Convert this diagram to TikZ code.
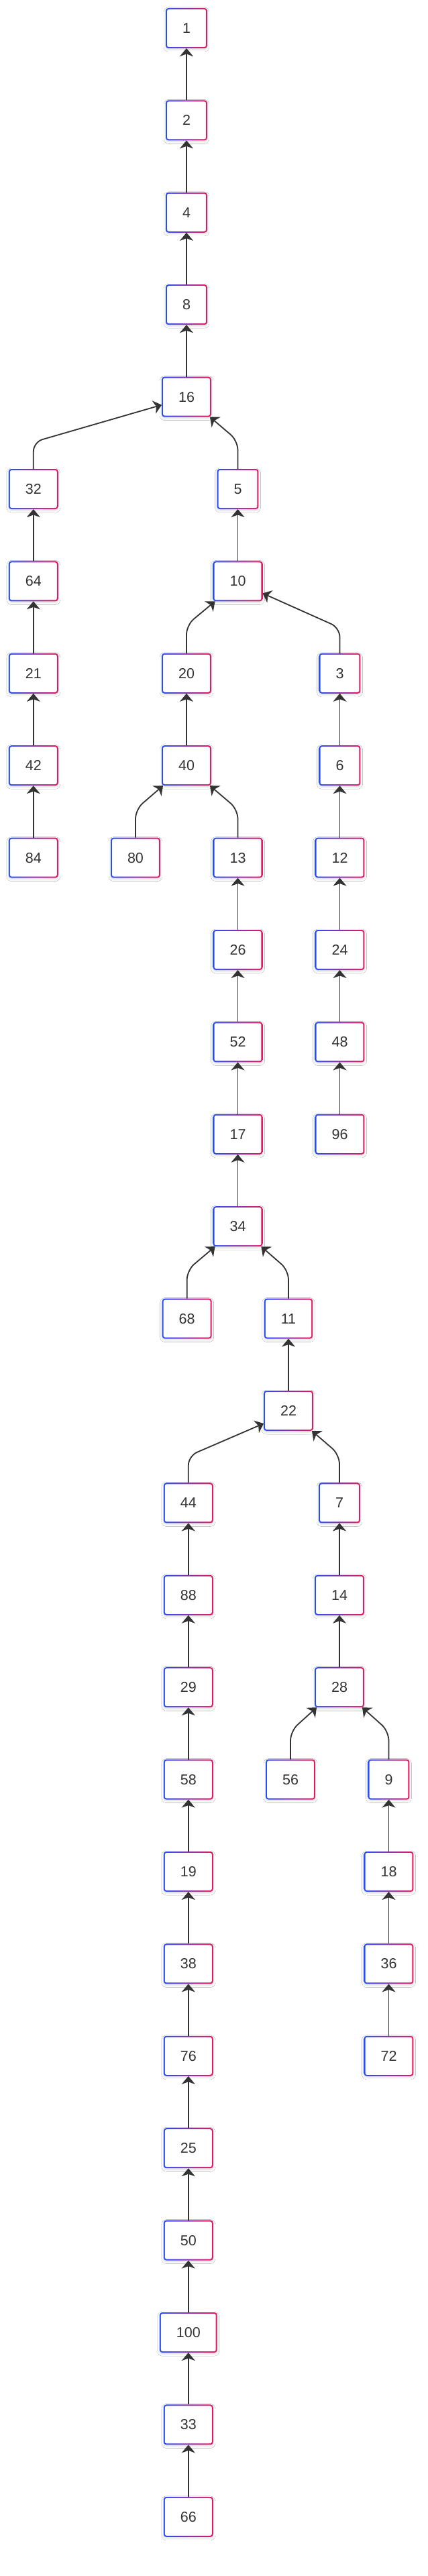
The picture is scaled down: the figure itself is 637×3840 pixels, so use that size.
\documentclass[tikz,border=0pt]{standalone}
\usepackage{fontspec}
\setmainfont{Liberation Sans}
\usetikzlibrary{arrows.meta,shadows.blur}
\definecolor{gblue}{RGB}{36,76,255}
\definecolor{gpink}{RGB}{236,20,92}
\definecolor{ink}{RGB}{51,51,51}
\tikzset{
  box/.style={rectangle, rounded corners=4pt, minimum height=60pt, inner xsep=25pt, inner ysep=0pt, outer sep=0pt,
    font=\fontsize{21.5}{25}\selectfont, text=ink, fill=white,
    blur shadow={shadow xshift=0pt, shadow yshift=-2pt, shadow blur radius=3pt, shadow opacity=14},
    path picture={
      \shade[left color=gblue, right color=gpink] (path picture bounding box.south west) rectangle (path picture bounding box.north east);
      \fill[white, rounded corners=2.5pt] ([shift={(2pt,2pt)}]path picture bounding box.south west) rectangle ([shift={(-2pt,-2pt)}]path picture bounding box.north east);
    }},
  edge/.style={draw=ink, line width=1.8pt, rounded corners=14pt, -{Stealth[length=12pt, width=20pt, inset=3.5pt]}}
}
\begin{document}
\begin{tikzpicture}[x=1pt, y=-1pt]
\fill[white] (0,0) rectangle (637,3840);
\useasboundingbox (0,0) rectangle (637,3840);
% main column
\node[box] (n1) at (278,42) {1};
\node[box] (n2) at (278,179.4) {2};
\node[box] (n4) at (278,316.8) {4};
\node[box] (n8) at (278,454.2) {8};
\node[box] (n16) at (278,591.6) {16};
% left chain
\node[box] (n32) at (49.8,729) {32};
\node[box] (n64) at (49.8,866.4) {64};
\node[box] (n21) at (49.8,1003.8) {21};
\node[box] (n42) at (49.8,1141.2) {42};
\node[box] (n84) at (49.8,1278.6) {84};
% right of 16
\node[box] (n5) at (354.5,729) {5};
\node[box] (n10) at (354.5,866.4) {10};
\node[box] (n20) at (278,1003.8) {20};
\node[box] (n40) at (278,1141.2) {40};
\node[box] (n80) at (202,1278.6) {80};
\node[box] (n13) at (354.5,1278.6) {13};
\node[box] (n26) at (354.5,1416) {26};
\node[box] (n52) at (354.5,1553.4) {52};
\node[box] (n17) at (354.5,1690.8) {17};
\node[box] (n34) at (354.5,1828.2) {34};
\node[box] (n68) at (278.7,1965.6) {68};
\node[box] (n11) at (430,1965.6) {11};
\node[box] (n22) at (430,2103) {22};
% 3 chain
\node[box] (n3) at (506.5,1003.8) {3};
\node[box] (n6) at (506.5,1141.2) {6};
\node[box] (n12) at (506.5,1278.6) {12};
\node[box] (n24) at (506.5,1416) {24};
\node[box] (n48) at (506.5,1553.4) {48};
\node[box] (n96) at (506.5,1690.8) {96};
% 44 chain
\node[box] (n44) at (280.8,2240.4) {44};
\node[box] (n88) at (280.8,2377.8) {88};
\node[box] (n29) at (280.8,2515.2) {29};
\node[box] (n58) at (280.8,2652.6) {58};
\node[box] (n19) at (280.8,2790) {19};
\node[box] (n38) at (280.8,2927.4) {38};
\node[box] (n76) at (280.8,3064.8) {76};
\node[box] (n25) at (280.8,3202.2) {25};
\node[box] (n50) at (280.8,3339.6) {50};
\node[box] (n100) at (280.8,3477) {100};
\node[box] (n33) at (280.8,3614.4) {33};
\node[box] (n66) at (280.8,3751.8) {66};
% 7 chain
\node[box] (n7) at (506,2240.4) {7};
\node[box] (n14) at (506,2377.8) {14};
\node[box] (n28) at (506,2515.2) {28};
\node[box] (n56) at (433,2652.6) {56};
\node[box] (n9) at (579.5,2652.6) {9};
\node[box] (n18) at (579.5,2790) {18};
\node[box] (n36) at (579.5,2927.4) {36};
\node[box] (n72) at (579.5,3064.8) {72};
% straight edges
\foreach \c/\p in {2/1,4/2,8/4,16/8,64/32,21/64,42/21,84/42,10/5,40/20,6/3,12/6,24/12,48/24,96/48,
  26/13,52/26,17/52,34/17,22/11,88/44,29/88,58/29,19/58,38/19,76/38,25/76,50/25,100/50,33/100,66/33,
  14/7,28/14,18/9,36/18,72/36}
  \draw[edge] (n\c.north) -- (n\p.south);
% bent edges
\draw[edge] (n32.north) -- ++(0,-40) -- ([yshift=18pt]n16.south west);
\draw[edge] (n5.north) -- ++(0,-42) -- ([xshift=-2pt]n16.south east);
\draw[edge] (n20.north) -- ++(0,-42) -- ([xshift=3pt]n10.south west);
\draw[edge] (n3.north) -- ++(0,-38) -- ([yshift=12pt]n10.south east);
\draw[edge] (n80.north) -- ++(0,-42) -- ([xshift=2pt]n40.south west);
\draw[edge] (n13.north) -- ++(0,-42) -- ([xshift=-2pt]n40.south east);
\draw[edge] (n68.north) -- ++(0,-42) -- ([xshift=3pt]n34.south west);
\draw[edge] (n11.north) -- ++(0,-42) -- ([xshift=-2pt]n34.south east);
\draw[edge] (n44.north) -- ++(0,-40) -- ([yshift=11pt]n22.south west);
\draw[edge] (n7.north) -- ++(0,-42) -- ([xshift=-2pt]n22.south east);
\draw[edge] (n56.north) -- ++(0,-42) -- ([xshift=3pt]n28.south west);
\draw[edge] (n9.north) -- ++(0,-42) -- ([xshift=-3pt]n28.south east);
\end{tikzpicture}
\end{document}
